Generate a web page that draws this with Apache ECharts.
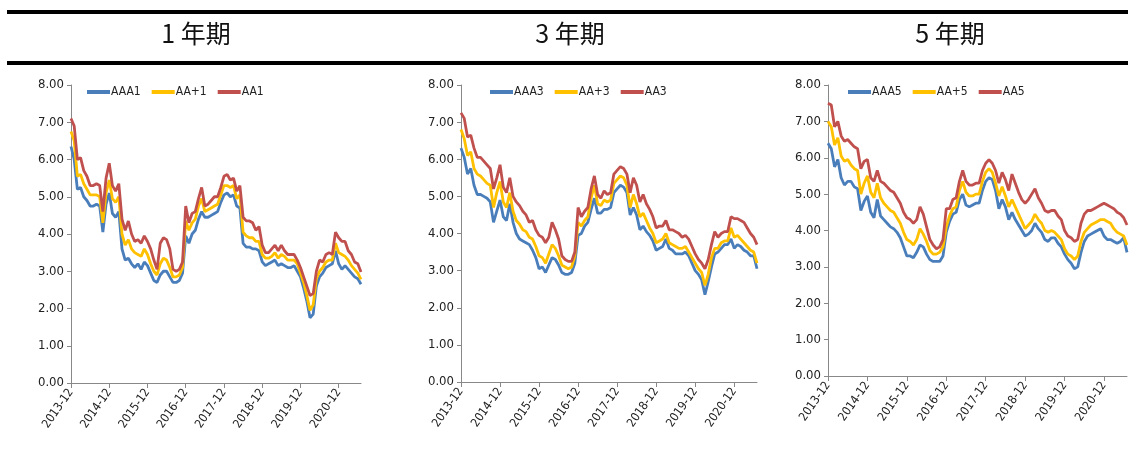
<!DOCTYPE html>
<html>
<head>
<meta charset="utf-8">
<script src="https://cdn.jsdelivr.net/npm/echarts@6/dist/echarts.min.js"></script>
<style>
  html, body { margin: 0; padding: 0; background: #fff; }
  #main { width: 1137px; height: 461px; }
</style>
</head>
<body>
<div id="main"></div>
<script>
var chart = echarts.init(document.getElementById('main'));

// 月度序列 2013-12 起
var months = [];
for (var i = 0; i < 92; i++) {
  var y = 2013 + Math.floor((11 + i) / 12);
  var m = (11 + i) % 12 + 1;
  months.push(y + '-' + (m < 10 ? '0' + m : m));
}

var titles = ['1 年期', '3 年期', '5 年期'];
var names1 = ['AAA1', 'AA+1', 'AA1'];
var names3 = ['AAA3', 'AA+3', 'AA3'];
var names5 = ['AAA5', 'AA+5', 'AA5'];
var yTicks = [0, 1, 2, 3, 4, 5, 6, 7, 8];

var aaa1 = [6.35, 6.0, 5.2, 5.25, 5.0, 4.9, 4.75, 4.75, 4.8, 4.75,
  4.05, 4.8, 5.1, 4.55, 4.45, 4.6, 3.6, 3.3, 3.35, 3.2,
  3.1, 3.2, 3.05, 3.25, 3.15, 2.95, 2.75, 2.7, 2.9, 3.0,
  3.0, 2.85, 2.7, 2.7, 2.75, 2.95, 3.95, 3.75, 4.0, 4.1,
  4.4, 4.6, 4.45, 4.45, 4.5, 4.55, 4.6, 4.85, 5.05, 5.1,
  5.0, 5.05, 4.75, 4.7, 3.75, 3.65, 3.65, 3.6, 3.6, 3.55,
  3.25, 3.15, 3.2, 3.25, 3.3, 3.15, 3.2, 3.15, 3.1, 3.1,
  3.15, 3.0, 2.85, 2.55, 2.2, 1.75, 1.85, 2.6, 2.85, 2.95,
  3.1, 3.15, 3.2, 3.55, 3.2, 3.05, 3.15, 3.05, 2.95, 2.85,
  2.8, 2.65];
var aap1 = [6.75, 6.5, 5.55, 5.6, 5.35, 5.2, 5.05, 5.05, 5.05, 5.0,
  4.3, 5.1, 5.45, 4.95, 4.85, 5.0, 4.0, 3.7, 3.85, 3.6,
  3.5, 3.45, 3.4, 3.6, 3.45, 3.2, 3.0, 2.9, 3.2, 3.35,
  3.3, 3.1, 2.85, 2.85, 2.9, 3.1, 4.35, 4.1, 4.3, 4.4,
  4.75, 4.95, 4.6, 4.65, 4.7, 4.75, 4.8, 5.05, 5.3, 5.3,
  5.25, 5.3, 4.95, 5.05, 4.05, 3.95, 3.9, 3.9, 3.8, 3.8,
  3.45, 3.35, 3.35, 3.4, 3.5, 3.35, 3.45, 3.4, 3.3, 3.3,
  3.3, 3.2, 2.95, 2.7, 2.35, 1.95, 2.1, 2.8, 3.0, 3.1,
  3.25, 3.3, 3.3, 3.75, 3.5, 3.45, 3.4, 3.3, 3.15, 3.05,
  2.95, 2.78];
var aa1 = [7.1, 6.9, 6.0, 6.05, 5.7, 5.55, 5.3, 5.3, 5.35, 5.3,
  4.6, 5.5, 5.9, 5.3, 5.15, 5.35, 4.4, 4.1, 4.35, 4.0,
  3.8, 3.85, 3.75, 3.95, 3.8, 3.6, 3.3, 3.05, 3.75, 3.9,
  3.85, 3.6, 3.05, 3.0, 3.05, 3.25, 4.75, 4.3, 4.55, 4.6,
  4.95, 5.25, 4.75, 4.8, 4.9, 5.0, 5.0, 5.25, 5.55, 5.6,
  5.45, 5.5, 5.15, 5.3, 4.45, 4.35, 4.35, 4.3, 4.1, 4.2,
  3.7, 3.5, 3.5, 3.6, 3.7, 3.55, 3.7, 3.55, 3.45, 3.45,
  3.45, 3.3, 3.1, 2.85, 2.6, 2.35, 2.4, 3.0, 3.3, 3.25,
  3.45, 3.5, 3.45, 4.05, 3.9, 3.8, 3.8, 3.55, 3.45, 3.25,
  3.2, 2.98];

var aaa3 = [6.3, 6.05, 5.6, 5.75, 5.3, 5.05, 5.05, 5.0, 4.95, 4.85,
  4.3, 4.6, 4.9, 4.45, 4.35, 4.8, 4.3, 4.0, 3.85, 3.8,
  3.75, 3.7, 3.55, 3.35, 3.05, 3.1, 2.95, 3.15, 3.35, 3.3,
  3.15, 2.95, 2.9, 2.9, 2.95, 3.2, 3.95, 4.0, 4.2, 4.3,
  4.65, 4.95, 4.55, 4.55, 4.65, 4.65, 4.7, 5.1, 5.2, 5.3,
  5.25, 5.1, 4.5, 4.7, 4.5, 4.1, 4.2, 4.05, 3.95, 3.8,
  3.55, 3.6, 3.65, 3.85, 3.6, 3.55, 3.45, 3.45, 3.45, 3.5,
  3.4, 3.2, 3.0, 2.9, 2.75, 2.35, 2.7, 3.1, 3.45, 3.5,
  3.6, 3.7, 3.7, 3.85, 3.6, 3.7, 3.65, 3.55, 3.5, 3.4,
  3.4, 3.05];
var aap3 = [6.8, 6.55, 6.1, 6.2, 5.75, 5.6, 5.55, 5.45, 5.35, 5.3,
  4.7, 5.1, 5.4, 4.85, 4.7, 5.1, 4.6, 4.35, 4.25, 4.1,
  4.05, 3.9, 3.85, 3.65, 3.4, 3.35, 3.2, 3.45, 3.7, 3.6,
  3.4, 3.15, 3.1, 3.05, 3.1, 3.4, 4.3, 4.2, 4.35, 4.45,
  4.95, 5.3, 4.8, 4.75, 4.9, 4.85, 4.9, 5.35, 5.45, 5.55,
  5.5, 5.3, 4.7, 5.05, 4.8, 4.45, 4.55, 4.35, 4.15, 4.0,
  3.75, 3.8, 3.85, 4.0, 3.75, 3.7, 3.65, 3.6, 3.6, 3.65,
  3.5, 3.35, 3.2, 3.05, 2.95, 2.6, 2.9, 3.35, 3.6, 3.6,
  3.75, 3.8, 3.8, 4.15, 3.9, 3.95, 3.85, 3.75, 3.65, 3.55,
  3.5, 3.2];
var aa3 = [7.25, 7.1, 6.6, 6.65, 6.3, 6.05, 6.05, 5.95, 5.85, 5.75,
  5.2, 5.5, 5.85, 5.25, 5.1, 5.5, 5.0, 4.85, 4.75, 4.6,
  4.5, 4.3, 4.35, 4.1, 3.95, 3.9, 3.75, 3.9, 4.3, 4.1,
  3.85, 3.4, 3.3, 3.25, 3.25, 3.5, 4.7, 4.45, 4.6, 4.7,
  5.2, 5.55, 5.05, 4.95, 5.15, 5.05, 5.1, 5.6, 5.7, 5.8,
  5.75, 5.6, 5.1, 5.5, 5.3, 4.85, 5.05, 4.8, 4.65, 4.45,
  4.15, 4.2, 4.2, 4.35, 4.1, 4.1, 4.05, 4.0, 3.9, 3.95,
  3.85, 3.65, 3.45, 3.3, 3.2, 3.05, 3.3, 3.7, 4.05, 3.9,
  4.0, 4.05, 4.05, 4.45, 4.4, 4.4, 4.35, 4.3, 4.15, 4.0,
  3.9, 3.7];

var aaa5 = [6.4, 6.25, 5.75, 5.95, 5.45, 5.25, 5.35, 5.35, 5.2, 5.15,
  4.55, 4.8, 4.95, 4.5, 4.35, 4.85, 4.4, 4.3, 4.2, 4.1,
  4.05, 3.95, 3.8, 3.55, 3.3, 3.3, 3.25, 3.4, 3.6, 3.55,
  3.35, 3.2, 3.15, 3.15, 3.15, 3.3, 3.95, 4.25, 4.45, 4.5,
  4.85, 5.0, 4.7, 4.65, 4.7, 4.75, 4.75, 5.1, 5.35, 5.45,
  5.4, 5.1, 4.6, 4.85, 4.65, 4.3, 4.5, 4.3, 4.15, 4.0,
  3.85, 3.9, 4.0, 4.2, 4.05, 3.95, 3.75, 3.7, 3.8, 3.8,
  3.65, 3.55, 3.35, 3.2, 3.1, 2.95, 3.0, 3.4, 3.7, 3.85,
  3.9, 3.95, 4.0, 4.05, 3.85, 3.75, 3.75, 3.7, 3.65, 3.7,
  3.8, 3.4];
var aap5 = [7.0, 6.85, 6.35, 6.55, 6.05, 5.9, 5.95, 5.8, 5.7, 5.65,
  5.0, 5.3, 5.5, 5.05, 4.9, 5.3, 4.9, 4.75, 4.65, 4.55,
  4.5, 4.35, 4.2, 3.95, 3.75, 3.7, 3.6, 3.75, 4.05, 3.9,
  3.7, 3.45, 3.35, 3.35, 3.4, 3.55, 4.1, 4.4, 4.6, 4.65,
  5.1, 5.35, 5.05, 4.95, 4.95, 5.0, 5.0, 5.35, 5.6, 5.7,
  5.6, 5.3, 4.95, 5.2, 4.95, 4.65, 4.85, 4.65, 4.45, 4.25,
  4.05, 4.15, 4.25, 4.45, 4.3, 4.2, 4.0, 3.95, 4.0, 3.95,
  3.85, 3.75, 3.5, 3.35, 3.3, 3.2, 3.3, 3.7, 3.95, 4.05,
  4.15, 4.2, 4.25, 4.3, 4.3, 4.25, 4.2, 4.05, 3.95, 3.9,
  3.85, 3.6];
var aa5 = [7.5, 7.45, 6.85, 7.0, 6.6, 6.45, 6.5, 6.4, 6.3, 6.25,
  5.7, 5.9, 5.95, 5.45, 5.35, 5.65, 5.35, 5.3, 5.2, 5.1,
  5.05, 4.9, 4.75, 4.5, 4.35, 4.3, 4.2, 4.3, 4.65, 4.45,
  4.1, 3.75, 3.6, 3.5, 3.55, 3.75, 4.6, 4.6, 4.85, 4.9,
  5.35, 5.65, 5.35, 5.25, 5.25, 5.3, 5.3, 5.65, 5.85, 5.95,
  5.85, 5.65, 5.3, 5.6, 5.4, 5.1, 5.55, 5.3, 5.05, 4.85,
  4.75, 4.85, 5.0, 5.15, 4.9, 4.75, 4.55, 4.5, 4.55, 4.55,
  4.4, 4.3, 4.0, 3.85, 3.8, 3.7, 3.75, 4.2, 4.45, 4.55,
  4.55, 4.6, 4.65, 4.7, 4.75, 4.7, 4.65, 4.6, 4.5, 4.45,
  4.35, 4.15];

var colors = ['#4A7EBB', '#FFC000', '#C0504D'];
var narrow = "'Liberation Sans Narrow', 'DejaVu Sans Condensed', Arial, sans-serif";

// 三个面板的位置
var panels = [
  { left: 71, top: 85, width: 290, height: 298, legendLeft: 82, titleX: 196, names: names1, data: [aaa1, aap1, aa1] },
  { left: 461, top: 85, width: 296, height: 297, legendLeft: 485, titleX: 570, names: names3, data: [aaa3, aap3, aa3] },
  { left: 828, top: 85, width: 299, height: 291, legendLeft: 843, titleX: 950, names: names5, data: [aaa5, aap5, aa5] }
];

var grid = [], xAxis = [], yAxis = [], legend = [], series = [], graphic = [];

graphic.push({ type: 'rect', left: 7, top: 10, shape: { width: 1121, height: 4 }, style: { fill: '#000' } });
graphic.push({ type: 'rect', left: 7, top: 61, shape: { width: 1121, height: 4 }, style: { fill: '#000' } });

panels.forEach(function (p, k) {
  grid.push({ left: p.left, top: p.top, width: p.width, height: p.height });
  xAxis.push({
    type: 'category',
    gridIndex: k,
    data: months,
    boundaryGap: false,
    axisLine: { lineStyle: { color: '#888', width: 1 } },
    axisTick: {
      length: 5,
      lineStyle: { color: '#888' },
      interval: function (idx) { return idx % 12 === 0; }
    },
    axisLabel: {
      rotate: 55,
      margin: 7,
      color: '#222',
      fontSize: 12,
      fontFamily: narrow,
      interval: function (idx) { return idx % 12 === 0; }
    },
    splitLine: { show: false }
  });
  yAxis.push({
    type: 'value',
    gridIndex: k,
    min: yTicks[0],
    max: yTicks[yTicks.length - 1],
    interval: 1,
    axisLine: { show: true, lineStyle: { color: '#888', width: 1 } },
    axisTick: { show: true, length: 4, lineStyle: { color: '#888' } },
    axisLabel: {
      color: '#222',
      fontSize: 13,
      fontFamily: narrow,
      margin: 7,
      formatter: function (v) { return v.toFixed(2); }
    },
    splitLine: { show: false }
  });
  legend.push({
    left: p.legendLeft,
    top: 81,
    data: p.names,
    icon: 'rect',
    itemWidth: 23,
    itemHeight: 4,
    itemGap: 11,
    textStyle: { fontSize: 12, fontFamily: narrow, color: '#222', padding: [0, 0, 0, -4] }
  });
  p.names.forEach(function (n, j) {
    series.push({
      name: n,
      type: 'line',
      xAxisIndex: k,
      yAxisIndex: k,
      data: p.data[j],
      showSymbol: false,
      symbol: 'none',
      lineStyle: { color: colors[j], width: 2.8 },
      itemStyle: { color: colors[j] },
      animation: false
    });
  });
  graphic.push({
    type: 'text',
    x: p.titleX,
    y: 33,
    style: {
      text: titles[k],
      fill: '#111',
      font: "25px 'Noto Sans CJK SC', sans-serif",
      textAlign: 'center',
      textVerticalAlign: 'middle'
    }
  });
});

chart.setOption({
  backgroundColor: '#fff',
  animation: false,
  grid: grid,
  xAxis: xAxis,
  yAxis: yAxis,
  legend: legend,
  series: series,
  graphic: graphic
});
</script>
</body>
</html>
